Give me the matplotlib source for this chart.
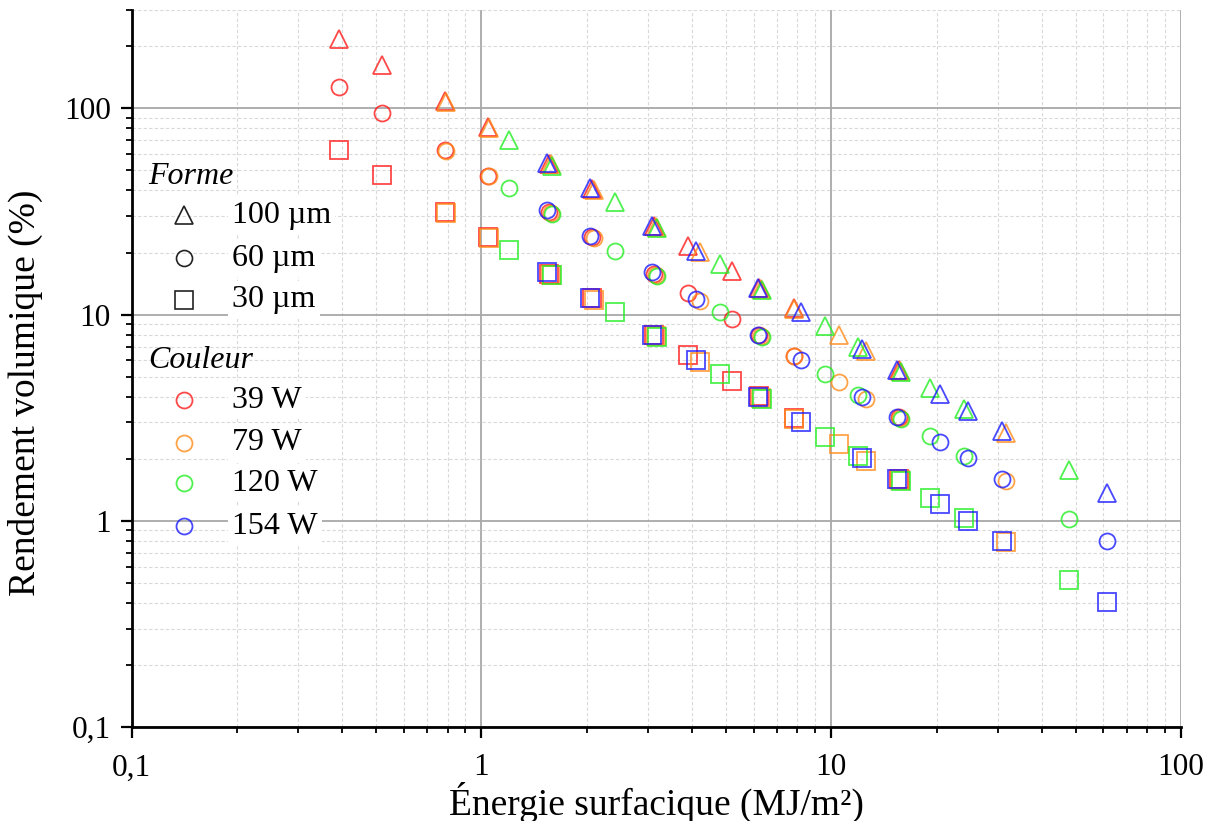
import matplotlib
matplotlib.use("Agg")
import matplotlib.pyplot as plt
from matplotlib.ticker import LogLocator, FixedLocator, FixedFormatter, NullFormatter
from matplotlib.lines import Line2D

# ---------------- data ----------------
powers = ["39 W", "79 W", "120 W", "154 W"]
sizes = ["100 µm", "60 µm", "30 µm"]

x_39 = [0.391, 0.521, 0.785, 1.044, 1.56, 2.07, 3.11, 3.89, 5.20, 6.22, 7.81, 15.6]
tri_39 = [216, 162, 108, 81, 54, 40.7, 26.8, 21.5, 16.2, 13.4, 10.8, 5.37]
cir_39 = [127, 95, 63, 47.2, 31.6, 23.8, 15.8, 12.7, 9.5, 7.92, 6.32, 3.17]
sq_39 = [63.1, 47.4, 31.5, 23.7, 15.8, 12.0, 7.94, 6.37, 4.78, 4.01, 3.15, 1.59]

x_79 = [0.79, 1.05, 1.58, 2.10, 3.15, 4.21, 6.30, 7.85, 10.5, 12.6, 15.7, 31.6]
tri_79 = [107, 80, 53.5, 40.2, 26.6, 20.2, 13.3, 10.7, 8.0, 6.64, 5.33, 2.67]
cir_79 = [62, 46.8, 31.2, 23.5, 15.6, 11.6, 7.85, 6.3, 4.69, 3.88, 3.14, 1.56]
sq_79 = [31.2, 23.5, 15.6, 11.8, 7.85, 5.87, 3.95, 3.13, 2.35, 1.96, 1.57, 0.785]

x_120 = [1.20, 1.593, 2.405, 3.18, 4.80, 6.35, 9.57, 11.9, 15.8, 19.16, 23.9, 48.0]
tri_120 = [70.2, 52.5, 35.0, 26.3, 17.5, 13.2, 8.77, 6.98, 5.25, 4.40, 3.50, 1.76]
cir_120 = [41.0, 30.9, 20.4, 15.4, 10.3, 7.75, 5.15, 4.09, 3.1, 2.58, 2.07, 1.02]
sq_120 = [20.6, 15.5, 10.25, 7.75, 5.15, 3.9, 2.56, 2.07, 1.56, 1.29, 1.03, 0.517]

x_154 = [1.54, 2.05, 3.08, 4.10, 6.18, 8.22, 12.28, 15.4, 20.47, 24.6, 30.8, 61.5]
tri_154 = [54.5, 41, 27, 20.4, 13.5, 10.3, 6.80, 5.4, 4.11, 3.41, 2.73, 1.37]
cir_154 = [32, 24, 16, 11.9, 8.0, 6.02, 4.0, 3.2, 2.40, 2.01, 1.60, 0.80]
sq_154 = [16, 12.0, 8.0, 6.04, 4.0, 3.01, 2.01, 1.6, 1.21, 1.0, 0.80, 0.403]

ytick_vals = [0.1, 1, 10, 100]
ytick_labels = ["0,1", "1", "10", "100"]
xtick_vals = [0.1, 1, 10, 100]
xtick_labels = ["0,1", "1", "10", "100"]

# ---------------- styling ----------------
colors = ["#ff1a1a", "#ff8c1a", "#22ee22", "#1a1aff"]
markers = ["^", "o", "s"]
msizes = [13, 11.5, 13]
FONT = "Liberation Serif"

series = [
    (x_39, [tri_39, cir_39, sq_39]),
    (x_79, [tri_79, cir_79, sq_79]),
    (x_120, [tri_120, cir_120, sq_120]),
    (x_154, [tri_154, cir_154, sq_154]),
]

fig = plt.figure(figsize=(12.12, 8.21), dpi=100)
ax = fig.add_axes([131.6 / 1212, 94 / 821, 1049.4 / 1212, 717 / 821])

for (xs, ys_list), col in zip(series, colors):
    for ys, mk, ms in zip(ys_list, markers, msizes):
        ax.plot(xs, ys, linestyle="none", marker=mk, markersize=ms,
                markerfacecolor="none", markeredgecolor=col,
                markeredgewidth=1.3, alpha=0.8, zorder=3)

ax.set_xscale("log")
ax.set_yscale("log")
ax.set_xlim(0.1, 100)
ax.set_ylim(0.1, 300)

ax.xaxis.set_major_locator(FixedLocator(xtick_vals))
ax.xaxis.set_major_formatter(FixedFormatter(xtick_labels))
ax.yaxis.set_major_locator(FixedLocator(ytick_vals))
ax.yaxis.set_major_formatter(FixedFormatter(ytick_labels))
ax.xaxis.set_minor_locator(LogLocator(base=10, subs=range(2, 10), numticks=20))
ax.yaxis.set_minor_locator(LogLocator(base=10, subs=range(2, 10), numticks=20))
ax.xaxis.set_minor_formatter(NullFormatter())
ax.yaxis.set_minor_formatter(NullFormatter())

ax.grid(which="major", color="#a8a8a8", linestyle="-", linewidth=1.3, zorder=0)
ax.grid(which="minor", color="#d9d9d9", linestyle=(0, (3, 2)), linewidth=0.8, zorder=0)
ax.set_axisbelow(True)

for s in ["top", "right"]:
    ax.spines[s].set_visible(False)
for s in ["left", "bottom"]:
    ax.spines[s].set_linewidth(2.0)
    ax.spines[s].set_color("black")

ax.tick_params(which="major", direction="out", length=8, width=1.6, labelsize=22.5)
ax.tick_params(axis="x", which="major", pad=11)
ax.tick_params(axis="y", which="major", pad=7)
ax.tick_params(which="minor", direction="out", length=4.5, width=1.3)
for lab in ax.get_xticklabels() + ax.get_yticklabels():
    lab.set_fontfamily(FONT)

ax.set_xlabel("Énergie surfacique (MJ/m²)", fontsize=27, fontfamily=FONT, va="top")
ax.set_ylabel("Rendement volumique (%)", fontsize=27, fontfamily=FONT)
ax.xaxis.set_label_coords(0.5, -0.076)
ax.yaxis.set_label_coords(-0.084, 0.466)

# ---------------- legend (manual) ----------------
def ax_y(py):
    return (727 - py) / 717.0

mx = (184 - 131.6) / 1049.4
tx = (232 - 131.6) / 1049.4
hx = (148 - 131.6) / 1049.4
bbox = dict(facecolor="white", edgecolor="none", pad=3)

ax.text(hx, ax_y(176), "Forme", transform=ax.transAxes, fontsize=23,
        fontstyle="italic", fontfamily=FONT, va="center", ha="left", zorder=5)
for lbl, mk, ms, py in zip(sizes, markers, msizes, [215, 258, 300]):
    ax.add_line(Line2D([mx], [ax_y(py)], transform=ax.transAxes, marker=mk,
                       markersize=ms, markerfacecolor="none", markeredgecolor="#222222",
                       markeredgewidth=1.2, linestyle="none", clip_on=False, zorder=5))
    ax.text(tx, ax_y(py), lbl, transform=ax.transAxes, fontsize=23, fontfamily=FONT,
            va="center", ha="left", bbox=bbox, zorder=5)

ax.text(hx, ax_y(360), "Couleur", transform=ax.transAxes, fontsize=23,
        fontstyle="italic", fontfamily=FONT, va="center", ha="left", zorder=5)
for lbl, col, py in zip(powers, colors, [400, 442.7, 483, 526]):
    ax.add_line(Line2D([mx], [ax_y(py)], transform=ax.transAxes, marker="o",
                       markersize=11.5, markerfacecolor="none", markeredgecolor=col,
                       markeredgewidth=1.3, alpha=0.8, linestyle="none",
                       clip_on=False, zorder=5))
    ax.text(tx, ax_y(py), lbl, transform=ax.transAxes, fontsize=23, fontfamily=FONT,
            va="center", ha="left", bbox=bbox, zorder=5)

fig.savefig("out.png", dpi=100)
